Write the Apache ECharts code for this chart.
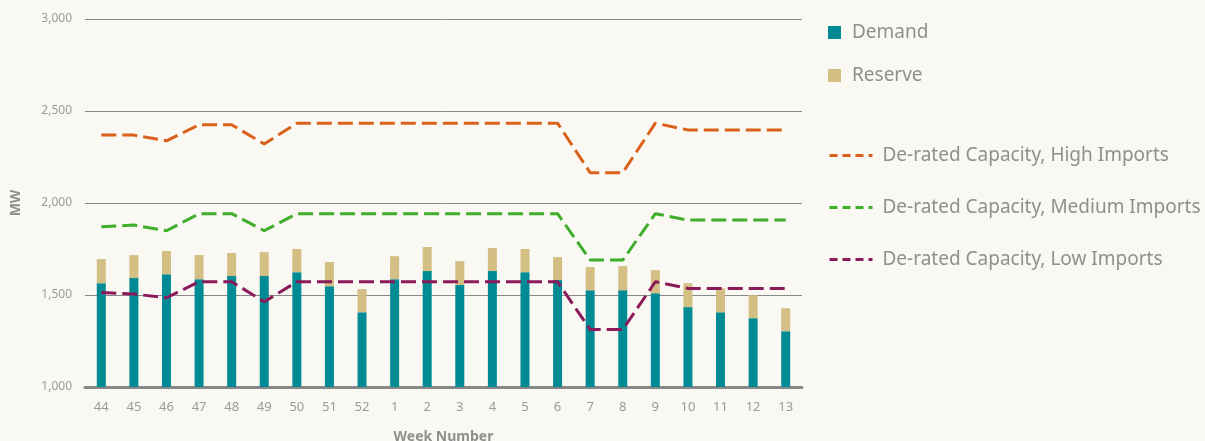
<!DOCTYPE html>
<html>
<head>
<meta charset="utf-8">
<script src="https://cdn.jsdelivr.net/npm/echarts@6/dist/echarts.min.js"></script>
<style>
  html, body { margin: 0; padding: 0; background: #f9f8f3; }
  #chart { width: 1205px; height: 441px; }
</style>
</head>
<body>
<div id="chart"></div>
<script>
// week numbers on the x axis
const weeks = ['44', '45', '46', '47', '48', '49', '50', '51', '52', '1', '2', '3', '4', '5', '6', '7', '8', '9', '10', '11', '12', '13'];

// MW values
const demand = [1564, 1592, 1613, 1586, 1603, 1603, 1624, 1548, 1406, 1586, 1630, 1554, 1630, 1624, 1581, 1526, 1526, 1510, 1434, 1406, 1374, 1303];
const reserve = [131, 125, 126, 131, 125, 130, 126, 131, 126, 125, 131, 130, 125, 126, 125, 126, 131, 125, 130, 131, 125, 125];
const highImports = [2369, 2369, 2338, 2425, 2425, 2321, 2434, 2434, 2434, 2434, 2434, 2434, 2434, 2434, 2434, 2165, 2165, 2434, 2397, 2397, 2397, 2397];
const mediumImports = [1871, 1880, 1849, 1942, 1942, 1849, 1942, 1942, 1942, 1942, 1942, 1942, 1942, 1942, 1942, 1690, 1690, 1942, 1907, 1907, 1907, 1907];
const lowImports = [1514, 1505, 1485, 1572, 1572, 1463, 1572, 1572, 1572, 1572, 1572, 1572, 1572, 1572, 1572, 1312, 1312, 1572, 1536, 1536, 1536, 1536];

const textGrey = '#8f8f8f';
const font = 'Noto Sans';

const chart = echarts.init(document.getElementById('chart'), null, { renderer: 'canvas' });

function dashedLine(name, data, color) {
  return {
    name: name,
    type: 'line',
    data: data,
    symbol: 'none',
    showSymbol: false,
    lineStyle: { color: color, width: 3, type: [15, 6] },
    itemStyle: { color: color },
    z: 5
  };
}

const option = {
  backgroundColor: '#f9f8f3',
  animation: false,
  textStyle: { fontFamily: font },
  grid: { left: 85, right: 403, top: 19, bottom: 54, outerBoundsMode: 'none' },
  legend: [
    {
      orient: 'vertical',
      left: 823,
      top: 18,
      itemWidth: 13,
      itemHeight: 13,
      itemGap: 24,
      icon: 'rect',
      textStyle: { color: textGrey, fontSize: 19, fontFamily: font, padding: [0, 0, 0, 6] },
      data: ['Demand', 'Reserve']
    },
    {
      orient: 'vertical',
      left: 823,
      top: 141,
      itemWidth: 43,
      itemHeight: 14,
      itemGap: 33,
      itemStyle: { opacity: 0 },
      lineStyle: { width: 3, type: [8, 5] },
      textStyle: { color: textGrey, fontSize: 19, fontFamily: font, padding: [0, 0, 0, 5] },
      data: ['De-rated Capacity, High Imports', 'De-rated Capacity, Medium Imports', 'De-rated Capacity, Low Imports']
    }
  ],
  xAxis: {
    type: 'category',
    data: weeks,
    name: 'Week Number',
    nameLocation: 'middle',
    nameGap: 43,
    nameTextStyle: { color: textGrey, fontSize: 14, fontWeight: 'bold', fontFamily: font },
    axisLine: { lineStyle: { color: '#888', width: 3 } },
    axisTick: { show: false },
    axisLabel: { color: '#9a9a9a', fontSize: 13, margin: 14, fontFamily: font }
  },
  yAxis: {
    type: 'value',
    min: 1000,
    max: 3000,
    interval: 500,
    name: 'MW',
    nameLocation: 'middle',
    nameGap: 62,
    nameTextStyle: { color: textGrey, fontSize: 14, fontWeight: 'bold', fontFamily: font },
    axisLine: { show: false },
    axisTick: { show: false },
    axisLabel: {
      color: '#9a9a9a',
      fontSize: 12,
      margin: 13,
      fontFamily: font,
      formatter: v => v.toLocaleString('en-US')
    },
    splitLine: { lineStyle: { color: '#888', width: 1 } }
  },
  series: [
    {
      name: 'Demand',
      type: 'bar',
      stack: 'total',
      data: demand,
      barWidth: 9,
      itemStyle: { color: '#008b94' }
    },
    {
      name: 'Reserve',
      type: 'bar',
      stack: 'total',
      data: reserve,
      barWidth: 9,
      itemStyle: { color: '#d3bf84' }
    },
    dashedLine('De-rated Capacity, High Imports', highImports, '#d9611b'),
    dashedLine('De-rated Capacity, Medium Imports', mediumImports, '#3fae2a'),
    dashedLine('De-rated Capacity, Low Imports', lowImports, '#8b1a5a')
  ]
};

chart.setOption(option);
</script>
</body>
</html>
